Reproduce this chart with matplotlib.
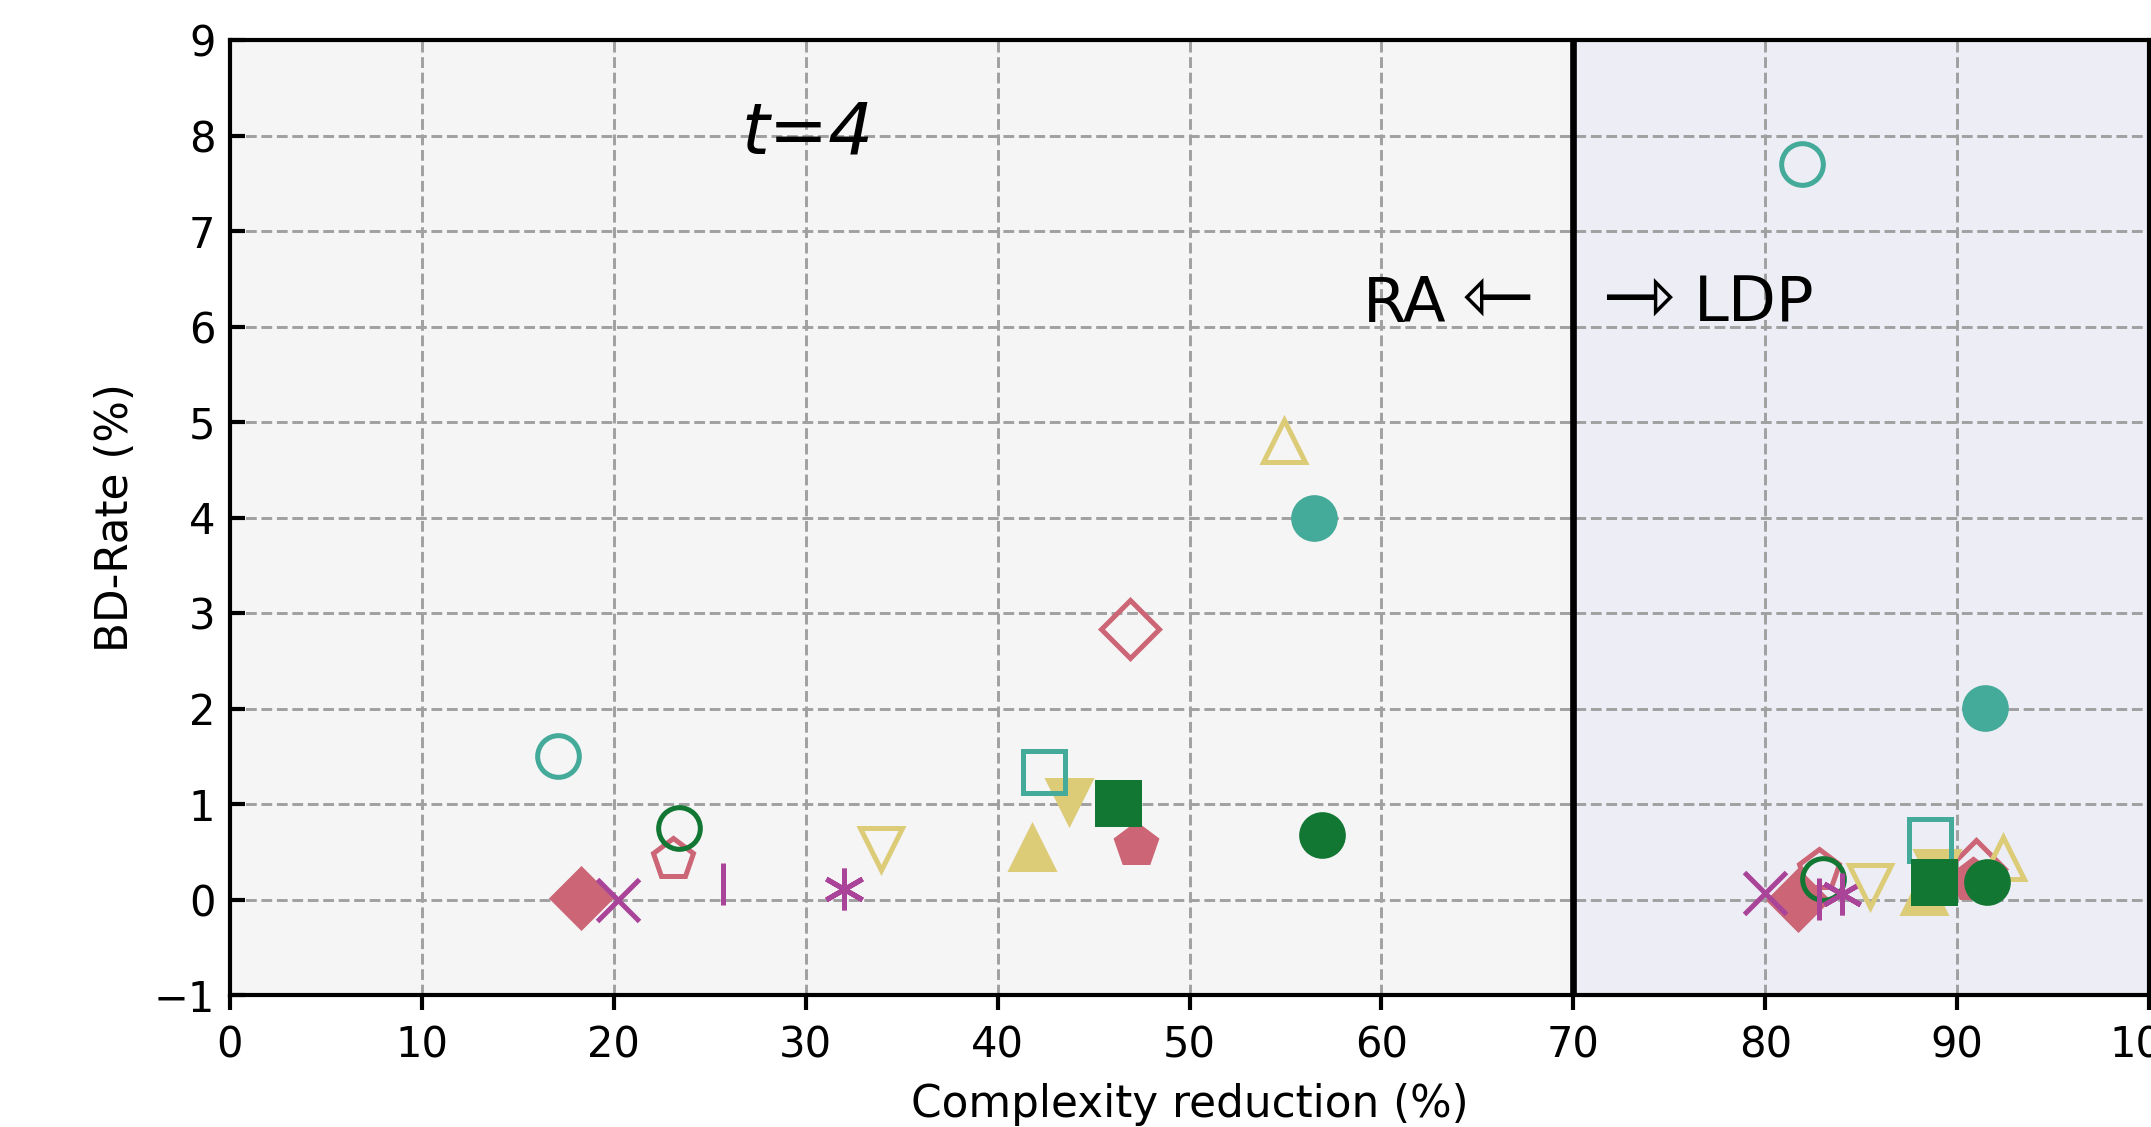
import matplotlib
matplotlib.use("Agg")
import matplotlib.pyplot as plt

# colours (muted palette)
teal = '#44AA99'
green = '#117733'
rose = '#CC6677'
sand = '#DDCC77'
purple = '#AA4499'
aster = (6, 2, 0)

# one entry per method, listed in drawing order
colors = [rose, purple, rose, rose, green, purple, purple, sand, rose,
          sand, teal, sand, green, sand, green, teal, teal]
markers = ['D', 'x', 'p', 'D', 'o', '|', aster, 'v', 'p',
           'v', 's', '^', 's', '^', 'o', 'o', 'o']
filled = [True, True, False, False, False, True, True, False, True,
          True, False, True, True, False, True, True, False]

# RA results (left part)
ra_x = [18.3, 20.2, 23.1, 46.9, 23.4, 25.7, 32.0, 33.9, 47.2,
        43.7, 42.4, 41.8, 46.3, 54.9, 56.9, 56.5, 17.1]
ra_y = [0.02, 0.0, 0.42, 2.83, 0.75, 0.16, 0.11, 0.53, 0.57,
        1.03, 1.34, 0.54, 1.01, 4.80, 0.68, 3.99, 1.50]

# LDP results (right part)
ldp_x = [81.7, 80.0, 82.8, 91.0, 83.0, 82.8, 84.0, 85.45, 90.8,
         88.96, 88.6, 88.25, 88.8, 92.4, 91.55, 91.45, 81.9]
ldp_y = [0.0, 0.07, 0.31, 0.32, 0.21, 0.01, 0.06, 0.14, 0.20,
         0.29, 0.62, 0.08, 0.18, 0.44, 0.18, 2.01, 7.70]

fig = plt.figure(figsize=(2151 / 300, 1127 / 300), dpi=300)
ax = fig.add_axes([0.1069, 0.1171, 0.8922, 0.8474])

ax.axvspan(0, 70, color='#F5F5F5', zorder=0.1, lw=0)
ax.axvspan(70, 100, color='#EDEEF5', zorder=0.1, lw=0)
ax.set_axisbelow(True)
ax.grid(True, linestyle='--', linewidth=0.7, color='#A0A0A0')

for c, m, f, x1, y1, x2, y2 in zip(colors, markers, filled, ra_x, ra_y, ldp_x, ldp_y):
    ax.plot([x1, x2], [y1, y2], linestyle='none', marker=m, markersize=10,
            markeredgewidth=1.2, markeredgecolor=c,
            markerfacecolor=c if f else 'none', zorder=2)

ax.axvline(70, color='black', linewidth=1.6, zorder=3)

ax.text(30.1, 7.81, 't=4', fontsize=17, style='italic', ha='center', va='baseline')
# region labels with open-headed arrows
ax.text(63.4, 6.05, 'RA', fontsize=15, ha='right', va='baseline')
ax.text(68.0, 6.35, '\u21fd', fontsize=21, ha='right', va='center_baseline')
ax.text(71.45, 6.35, '\u21fe', fontsize=21, ha='left', va='center_baseline')
ax.text(76.3, 6.05, 'LDP', fontsize=15, ha='left', va='baseline')

ax.set_xlim(0, 100)
ax.set_ylim(-1, 9)
ax.set_xticks(range(0, 101, 10))
ax.set_yticks(range(-1, 10))
ax.tick_params(axis='x', direction='out', labelsize=10, width=1.0)
ax.tick_params(axis='y', direction='in', labelsize=10, width=1.0)
for s in ax.spines.values():
    s.set_linewidth(1.0)
    s.set_color('black')

ax.set_xlabel('Complexity reduction (%)', fontsize=10.5)
ax.set_ylabel('BD-Rate (%)', fontsize=10.5)

fig.savefig('out.png', dpi=300)
